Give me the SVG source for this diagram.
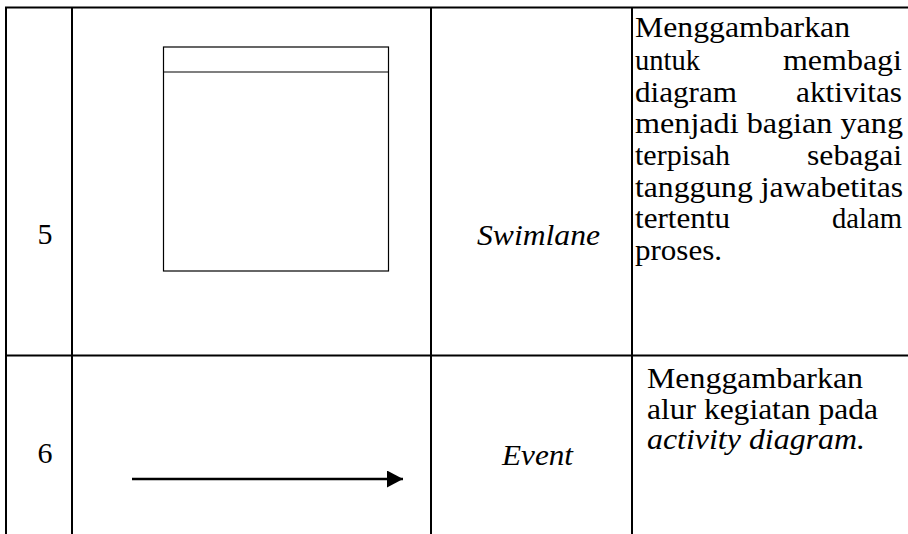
<svg xmlns="http://www.w3.org/2000/svg" width="908" height="534" viewBox="0 0 908 534">
<style>
.grid{stroke:#000;stroke-width:2;fill:none}
.t{font-family:"Liberation Serif","Times New Roman",serif;font-size:30px;fill:#000}
.i{font-style:italic}
.shape{stroke:#000;stroke-width:1.2;fill:#fff}
.conn{stroke:#000;stroke-width:2.4;fill:none}
</style>
<defs>
<marker id="arr" markerUnits="userSpaceOnUse" markerWidth="18" markerHeight="18" refX="16" refY="8.5" orient="auto">
<polygon points="0,0 16,8.5 0,17" fill="#000"/>
</marker>
</defs>
<rect width="908" height="534" fill="#fff"/>
<g id="table">
<line class="grid" x1="5" y1="7.5" x2="908" y2="7.5"/>
<line class="grid" x1="5" y1="355.5" x2="908" y2="355.5"/>
<line class="grid" x1="6" y1="7" x2="6" y2="534"/>
<line class="grid" x1="72" y1="7" x2="72" y2="534"/>
<line class="grid" x1="431" y1="7" x2="431" y2="534"/>
<line class="grid" x1="632" y1="7" x2="632" y2="534"/>
</g>
<g id="row5-number"><text class="t" x="45" y="244" text-anchor="middle">5</text></g>
<g id="swimlane-symbol">
<rect class="shape" x="163.5" y="47" width="225" height="224"/>
<line class="shape" x1="163.5" y1="72" x2="388.5" y2="72"/>
</g>
<g id="swimlane-name"><text class="t i" x="477" y="245" textLength="123" lengthAdjust="spacingAndGlyphs">Swimlane</text></g>
<g id="swimlane-desc">
<text class="t" x="635" y="37" textLength="215" lengthAdjust="spacingAndGlyphs">Menggambarkan</text>
<text class="t" x="635" y="70" textLength="65" lengthAdjust="spacingAndGlyphs">untuk</text>
<text class="t" x="783" y="70" textLength="119" lengthAdjust="spacingAndGlyphs">membagi</text>
<text class="t" x="635" y="102" textLength="102" lengthAdjust="spacingAndGlyphs">diagram</text>
<text class="t" x="796" y="102" textLength="106" lengthAdjust="spacingAndGlyphs">aktivitas</text>
<text class="t" x="635" y="133" textLength="268" lengthAdjust="spacingAndGlyphs">menjadi bagian yang</text>
<text class="t" x="635" y="165" textLength="95" lengthAdjust="spacingAndGlyphs">terpisah</text>
<text class="t" x="807" y="165" textLength="95" lengthAdjust="spacingAndGlyphs">sebagai</text>
<text class="t" x="635" y="197" textLength="268" lengthAdjust="spacingAndGlyphs">tanggung jawabetitas</text>
<text class="t" x="635" y="228" textLength="95" lengthAdjust="spacingAndGlyphs">tertentu</text>
<text class="t" x="832" y="228" textLength="70" lengthAdjust="spacingAndGlyphs">dalam</text>
<text class="t" x="635" y="260" textLength="87" lengthAdjust="spacingAndGlyphs">proses.</text>
</g>
<g id="row6-number"><text class="t" x="45" y="463" text-anchor="middle">6</text></g>
<g id="connectors">
<line class="conn" x1="132" y1="479" x2="403" y2="479" marker-end="url(#arr)"/>
</g>
<g id="event-name"><text class="t i" x="502" y="465" textLength="71" lengthAdjust="spacingAndGlyphs">Event</text></g>
<g id="event-desc">
<text class="t" x="647" y="388" textLength="216" lengthAdjust="spacingAndGlyphs">Menggambarkan</text>
<text class="t" x="647" y="419" textLength="231" lengthAdjust="spacingAndGlyphs">alur kegiatan pada</text>
<text class="t i" x="647" y="449" textLength="218" lengthAdjust="spacingAndGlyphs">activity diagram.</text>
</g>
</svg>
